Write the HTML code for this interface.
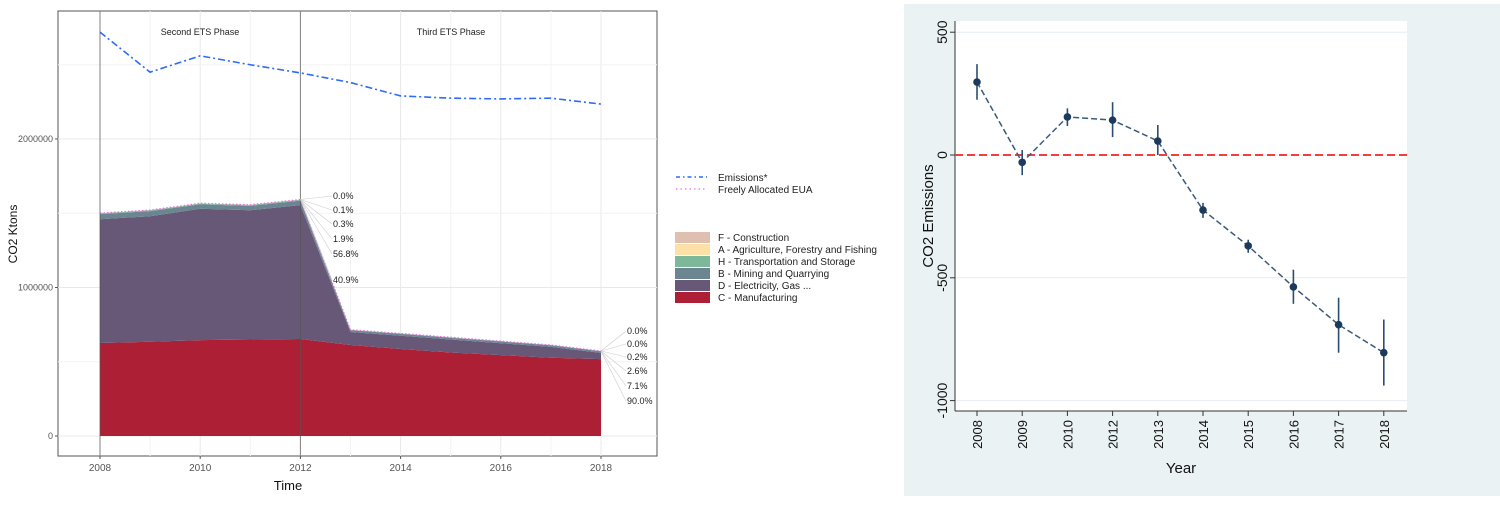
<!DOCTYPE html>
<html><head><meta charset="utf-8"><style>
body{margin:0;background:#fff;width:1500px;height:500px;overflow:hidden;font-family:"Liberation Sans",sans-serif}
svg text{font-family:"Liberation Sans",sans-serif}
</style></head><body>
<svg id="s" width="1500" height="500" xmlns="http://www.w3.org/2000/svg">
<g id="left"></g>
<g id="right"></g>
</svg>
<script>
const years=[2008,2009,2010,2011,2012,2013,2014,2015,2016,2017,2018];
const emissions=[2720000,2450000,2560000,2500000,2445000,2380000,2290000,2275000,2270000,2275000,2235000];
const secC=[626000,635000,646000,650000,653000,613000,586000,562000,545000,527000,518000];
const secD=[834000,845000,884000,870000,902000,87000,89000,88000,80000,73000,42000];
const secB=[34000,34000,30000,30000,30000,13000,13000,12000,12000,11000,11000];
const secH=[6000,6000,6000,6000,6000,2000,2000,2000,1500,1500,1000];
const secA=[1000,1000,1000,1000,1000,500,500,500,400,400,300];
const secF=[500,500,500,500,500,300,300,300,200,200,100];
const leftYTicks=[0,1000000,2000000];
const leftXTicks=[2008,2010,2012,2014,2016,2018];
const pct2012=["0.0%","0.1%","0.3%","1.9%","56.8%","40.9%"];
const pct2018=["0.0%","0.0%","0.2%","2.6%","7.1%","90.0%"];

const catYears=["2008","2009","2010","2012","2013","2014","2015","2016","2017","2018"];
const coef=[297,-30,155,142,57,-224,-370,-537,-691,-805];
const ciHi=[370,20,190,215,122,-195,-345,-467,-581,-670];
const ciLo=[225,-82,118,73,0,-256,-398,-606,-805,-939];
const rightYTicks=[500,0,-500,-1000];

const NS="http://www.w3.org/2000/svg";
function mk(p,t,a,txt){const e=document.createElementNS(NS,t);for(const k in a)e.setAttribute(k,a[k]);if(txt!==undefined)e.textContent=txt;p.appendChild(e);return e;}

// LEFT
const L=document.getElementById('left');
const lx=y=>100+(y-2008)*50.1;
const ly=v=>436-v*148.5/1000000;
mk(L,'rect',{x:58,y:11,width:599,height:445,fill:'#fff',stroke:'#555','stroke-width':1});
for(let y=2008;y<=2018;y++){const g=mk(L,'line',{x1:lx(y),x2:lx(y),y1:11,y2:456,stroke:y%2?'#f3f3f3':'#e8e8e8'});}
for(let v=0;v<=2500000;v+=500000){const g=mk(L,'line',{x1:58,x2:657,y1:ly(v),y2:ly(v),stroke:v%1000000?'#f3f3f3':'#e8e8e8'});}
const stacks=[secC,secD,secB,secH,secA,secF];
const cols=['#ad1f35','#675878','#6b8591','#7db89b','#fde0a8','#dfbfb0'];
const names=['area-manufacturing','area-electricity','area-mining','area-transport','area-agriculture','area-construction'];
let base=years.map(()=>0);
stacks.forEach((s,i)=>{
  const top=base.map((b,j)=>b+s[j]);
  let d='M'+years.map((y,j)=>lx(y)+','+ly(top[j])).join('L');
  for(let j=years.length-1;j>=0;j--)d+='L'+lx(years[j])+','+ly(base[j]);
  const p=mk(L,'path',{d:d+'Z',fill:cols[i]});
  
  base=top;
});
const tot=base;
const fa=mk(L,'polyline',{points:years.map((y,j)=>lx(y)+','+ly(tot[j])).join(' '),fill:'none',stroke:'#e86fe8','stroke-width':1.2,'stroke-dasharray':'1.5 2'});

const em=mk(L,'polyline',{points:years.map((y,j)=>lx(y)+','+ly(emissions[j])).join(' '),fill:'none',stroke:'#2d6cf5','stroke-width':1.6,'stroke-dasharray':'7 3 2 3'});

[2008,2012].forEach(y=>{const l=mk(L,'line',{x1:lx(y),x2:lx(y),y1:11,y2:456,stroke:'#555','stroke-width':1,opacity:0.7});});
let t=mk(L,'text',{x:200,y:35,'font-size':9,'text-anchor':'middle',fill:'#222'},'Second ETS Phase');
t=mk(L,'text',{x:451,y:35,'font-size':9,'text-anchor':'middle',fill:'#222'},'Third ETS Phase');
// pct labels
const p12y=[199,213,227,242,257,283];
pct2012.forEach((s,i)=>{mk(L,'line',{x1:lx(2012),y1:ly(tot[4]),x2:332,y2:p12y[i]-3,stroke:'#ccc','stroke-width':0.6});const e=mk(L,'text',{x:333,y:p12y[i],'font-size':9,fill:'#222'},s);});
const p18y=[334,347,360,374,389,404];
pct2018.forEach((s,i)=>{mk(L,'line',{x1:lx(2018),y1:ly(tot[10]),x2:626,y2:p18y[i]-3,stroke:'#ccc','stroke-width':0.6});const e=mk(L,'text',{x:627,y:p18y[i],'font-size':9,fill:'#222'},s);});
leftYTicks.forEach(v=>{mk(L,'line',{x1:55,x2:58,y1:ly(v),y2:ly(v),stroke:'#555'});const e=mk(L,'text',{x:53,y:ly(v)+3,'font-size':9,'text-anchor':'end',fill:'#555'},String(v));});
leftXTicks.forEach(v=>{mk(L,'line',{x1:lx(v),x2:lx(v),y1:456,y2:459,stroke:'#555'});const e=mk(L,'text',{x:lx(v),y:471,'font-size':10,'text-anchor':'middle',fill:'#555'},String(v));});
t=mk(L,'text',{x:288,y:490,'font-size':13,'text-anchor':'middle',fill:'#111'},'Time');
t=mk(L,'text',{x:0,y:0,'font-size':12,'text-anchor':'middle',fill:'#111',transform:'translate(17,234) rotate(-90)'},'CO2 Ktons');
// legend
mk(L,'line',{x1:676,x2:707,y1:177,y2:177,stroke:'#2d6cf5','stroke-width':1.5,'stroke-dasharray':'4 3 1.5 3'});
t=mk(L,'text',{x:718,y:181,'font-size':10,fill:'#222'},'Emissions*');
mk(L,'line',{x1:676,x2:707,y1:189,y2:189,stroke:'#e86fe8','stroke-width':1.2,'stroke-dasharray':'1.5 3'});
t=mk(L,'text',{x:718,y:193,'font-size':10,fill:'#222'},'Freely Allocated EUA');
const legN=['F - Construction','A - Agriculture, Forestry and Fishing','H - Transportation and Storage','B - Mining and Quarrying','D - Electricity, Gas ...','C - Manufacturing'];
legN.forEach((s,i)=>{const y=232+i*12;mk(L,'rect',{x:675,y:y,width:35,height:11,fill:cols[5-i]});const e=mk(L,'text',{x:718,y:y+9,'font-size':10,fill:'#222'},s);});

// RIGHT
const R=document.getElementById('right');
mk(R,'rect',{x:904,y:4,width:596,height:492,fill:'#eaf2f3'});
mk(R,'rect',{x:955,y:21,width:452,height:390,fill:'#fff'});
const rx=i=>977+i*45.2;
const ry=v=>155-v*0.2456;
rightYTicks.forEach(v=>{const g=mk(R,'line',{x1:955,x2:1407,y1:ry(v),y2:ry(v),stroke:'#e6eef0','stroke-width':1});
mk(R,'line',{x1:950,x2:955,y1:ry(v),y2:ry(v),stroke:'#333'});
const e=mk(R,'text',{x:0,y:0,'font-size':14,'text-anchor':'middle',fill:'#111',transform:`translate(947,${ry(v)}) rotate(-90)`},String(v));});
mk(R,'line',{x1:955,x2:955,y1:21,y2:411,stroke:'#333'});
mk(R,'line',{x1:955,x2:1407,y1:411,y2:411,stroke:'#333'});
const zl=mk(R,'line',{x1:955,x2:1407,y1:ry(0),y2:ry(0),stroke:'#f0403c','stroke-width':2,'stroke-dasharray':'8 4'});
const cl=mk(R,'polyline',{points:coef.map((v,i)=>rx(i)+','+ry(v)).join(' '),fill:'none',stroke:'#3a5a7a','stroke-width':1.5,'stroke-dasharray':'6 3'});
catYears.forEach((c,i)=>{
  const b=mk(R,'line',{x1:rx(i),x2:rx(i),y1:ry(ciHi[i]),y2:ry(ciLo[i]),stroke:'#2a4d72','stroke-width':1.6});
  const d=mk(R,'circle',{cx:rx(i),cy:ry(coef[i]),r:3.8,fill:'#1c3a5c'});
  mk(R,'line',{x1:rx(i),x2:rx(i),y1:411,y2:416,stroke:'#333'});
  const e=mk(R,'text',{x:0,y:0,'font-size':13,'text-anchor':'end',fill:'#111',transform:`translate(${rx(i)+5},420) rotate(-90)`},c);
});
t=mk(R,'text',{x:1181,y:473,'font-size':15,'text-anchor':'middle',fill:'#111'},'Year');
t=mk(R,'text',{x:0,y:0,'font-size':15,'text-anchor':'middle',fill:'#111',transform:'translate(933,216) rotate(-90)'},'CO2 Emissions');
</script>
</body></html>
